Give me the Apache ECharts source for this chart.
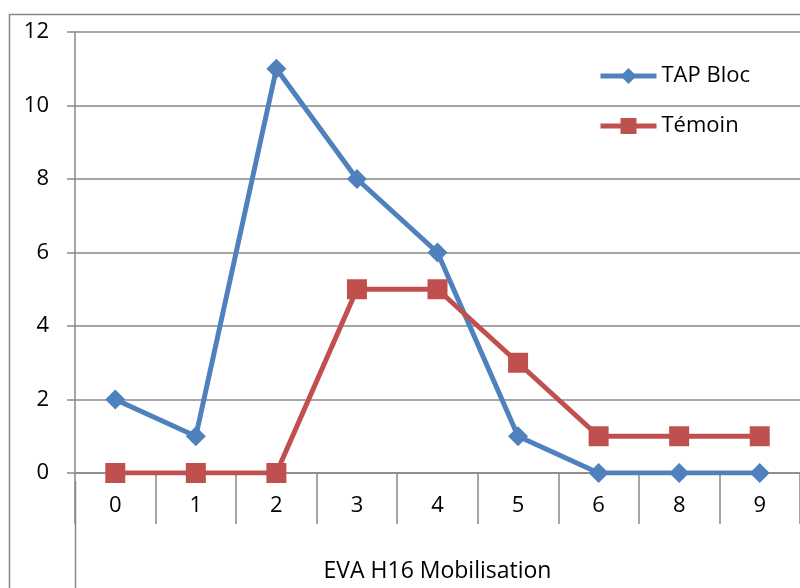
<!DOCTYPE html>
<html>
<head>
<meta charset="utf-8">
<script src="https://cdn.jsdelivr.net/npm/echarts@6/dist/echarts.min.js"></script>
<style>
  html, body { margin: 0; padding: 0; background: #fff; overflow: hidden; }
  #chart { width: 800px; height: 588px; }
</style>
</head>
<body>
<div id="chart"></div>
<script>
const categories = ['0', '1', '2', '3', '4', '5', '6', '8', '9']
const tapBloc = [2, 1, 11, 8, 6, 1, 0, 0, 0]
const temoin = [0, 0, 0, 5, 5, 3, 1, 1, 1]

const font = "'Open Sans', 'Liberation Sans', sans-serif"
const gridColor = '#898989'

const chart = echarts.init(document.getElementById('chart'))
chart.setOption({
  backgroundColor: '#fff',
  animation: false,
  textStyle: { fontFamily: font },
  grid: { left: 75, width: 735, top: 32, height: 449 },
  legend: {
    orient: 'vertical', left: 593, top: 60, itemWidth: 56, itemHeight: 20, itemGap: 28,
    lineStyle: { width: 5 },
    textStyle: { fontSize: 22, color: '#000', fontFamily: font },
    data: ['TAP Bloc', 'Témoin'],
  },
  // chart-area border and the left rule continuing below the axis
  graphic: [
    { type: 'rect', shape: { x: 9.5, y: 14.5, width: 900, height: 700 }, style: { fill: 'none', stroke: gridColor, lineWidth: 1.5 }, silent: true },
    { type: 'line', shape: { x1: 75.5, y1: 481, x2: 75.5, y2: 588 }, style: { stroke: gridColor, lineWidth: 1.5 }, silent: true },
  ],
  xAxis: {
    type: 'category', data: categories, boundaryGap: true,
    name: 'EVA H16 Mobilisation', nameLocation: 'middle', nameGap: 87,
    nameTextStyle: { fontSize: 23, color: '#000', fontFamily: font },
    axisLine: { lineStyle: { color: gridColor, width: 1.5 } },
    axisTick: { show: true, length: 51, interval: 0, lineStyle: { color: gridColor, width: 1.5 } },
    axisLabel: { fontSize: 22, color: '#000', margin: 22, fontFamily: font },
  },
  yAxis: {
    type: 'value', min: 0, max: 12, interval: 2,
    axisLine: { show: true, lineStyle: { color: gridColor, width: 1.5 } },
    axisTick: { show: true, length: 8, lineStyle: { color: gridColor, width: 1.5 } },
    axisLabel: { fontSize: 22, color: '#000', margin: 26, fontFamily: font },
    splitLine: { lineStyle: { color: gridColor, width: 1.5 } },
  },
  series: [
    {
      name: 'TAP Bloc', type: 'line', data: tapBloc,
      symbol: 'diamond', symbolSize: 20, showAllSymbol: true,
      lineStyle: { color: '#4F81BD', width: 5 }, itemStyle: { color: '#4F81BD' },
    },
    {
      name: 'Témoin', type: 'line', data: temoin,
      symbol: 'rect', symbolSize: 20, showAllSymbol: true,
      lineStyle: { color: '#C0504D', width: 5 }, itemStyle: { color: '#C0504D' },
    },
  ],
})
</script>
</body>
</html>
